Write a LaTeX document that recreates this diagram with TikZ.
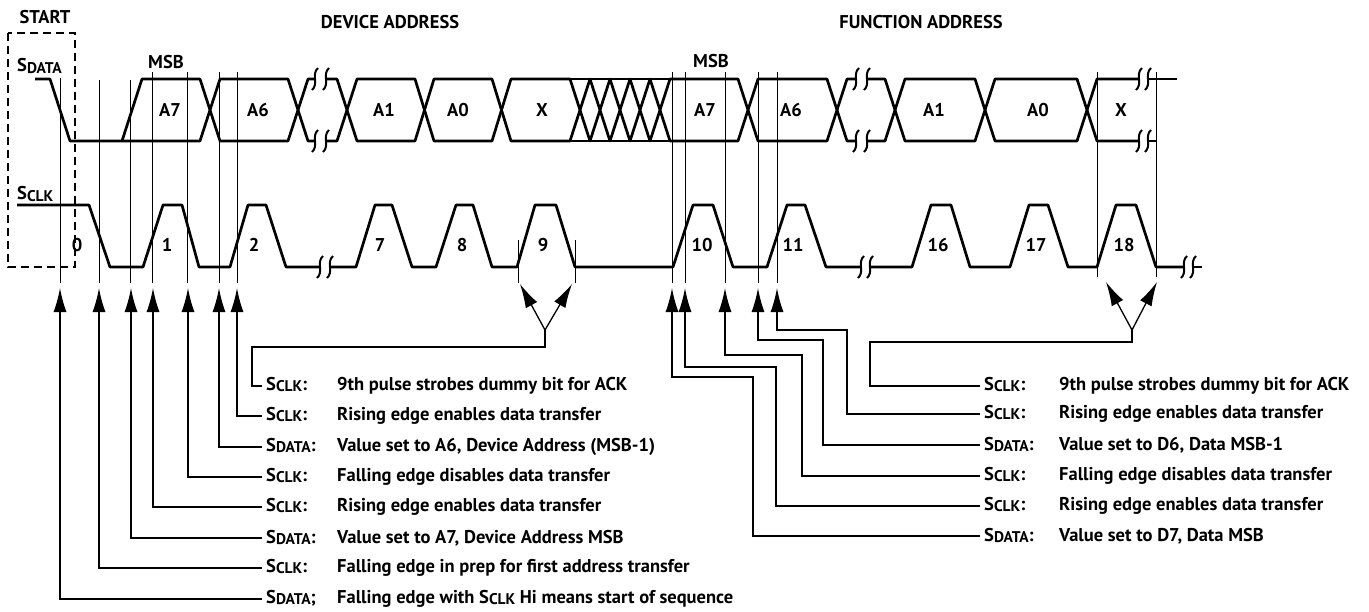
\documentclass[tikz,border=0pt]{standalone}
\usepackage{fontspec}
\setmainfont{PT Sans}
\usetikzlibrary{arrows.meta}
\newcommand{\sgnl}[1]{S{\fontsize{15.5}{15.5}\selectfont\raisebox{-1.2pt}{#1}}}
\begin{document}
\begin{tikzpicture}[x=1pt,y=-1pt,
  wave/.style={line width=2.7pt, line join=round},
  guide/.style={line width=1pt},
  conn/.style={line width=1.3pt},
  arr/.style={conn,-{Latex[length=24pt,width=13pt]}},
  brk/.style={line width=2pt},
  txt/.style={font=\bfseries\fontsize{18.5}{21}\selectfont, inner sep=0pt},
  lab/.style={txt, anchor=west, inner xsep=4pt},
]
\useasboundingbox (0,0) rectangle (1369,611);
\newcommand{\brkmark}[2]{\draw[brk] (#1+3,#2-11) .. controls (#1-4,#2-5) and (#1+4,#2+5) .. (#1-3,#2+11);}

% start box
\draw[line width=2.5pt, dash pattern=on 8pt off 5pt] (8,33) rectangle (75,267);

% headers
\node[txt] (start) at (45,17) {START};
\node[txt] (dev) at (390,22) {DEVICE ADDRESS};
\node[txt] (fun) at (921,22) {FUNCTION ADDRESS};
\node[txt, anchor=west] (sd) at (17,66) {\sgnl{DATA}};
\node[txt, anchor=west] (sc) at (17,194) {\sgnl{CLK}};
\node[txt] (msb1) at (166,62) {MSB};
\node[txt] (msb2) at (711,61) {MSB};

% guide lines
\foreach \x/\y in {60/78,99/80,130/80,152/72,187/72,219/72,237/72,672/72,685/72,725/72,758/72,777/72,518/240,575/240}
  \draw[guide] (\x,\y) -- (\x,283);
\foreach \x in {1097,1156}
  \draw[guide] (\x,72) -- (\x,277);

% SDATA
\draw[wave] (35,79) -- (50,79) -- (70,141) -- (200,141) -- (220,79) -- (288,79) -- (308,141) -- (315,141);
\draw[wave] (122,141) -- (142,79) -- (200,79) -- (220,141) -- (288,141) -- (308,79) -- (315,79);
\brkmark{315}{79}\brkmark{326}{79}\brkmark{315}{141}\brkmark{326}{141}
\draw[wave] (326,79) -- (337,79) -- (357,141) -- (415,141) -- (434,79) -- (492,79) -- (511,141) -- (570,141) -- (590,79) -- (610,141) -- (630,79) -- (650,141) -- (670,79) -- (738,79) -- (758,141) -- (827,141) -- (847,79) -- (856,79);
\draw[wave] (326,141) -- (337,141) -- (357,79) -- (415,79) -- (434,141) -- (492,141) -- (511,79) -- (570,79) -- (590,141) -- (610,79) -- (630,141) -- (650,79) -- (670,141) -- (738,141) -- (758,79) -- (827,79) -- (847,141) -- (856,141);
\draw[wave] (570,79) -- (670,79) (570,141) -- (670,141);
\brkmark{856}{79}\brkmark{867}{79}\brkmark{856}{141}\brkmark{867}{141}
\draw[wave] (867,79) -- (885,79) -- (905,141) -- (975,141) -- (995,79) -- (1077,79) -- (1097,141) -- (1139,141);
\draw[wave] (867,141) -- (885,141) -- (905,79) -- (975,79) -- (995,141) -- (1077,141) -- (1097,79) -- (1139,79);
\brkmark{1139}{79}\brkmark{1148}{79}\brkmark{1139}{141}\brkmark{1148}{141}
\draw[wave] (1148,79) -- (1177,79) (1148,141) -- (1156,141);

% data labels
\foreach \x/\t [count=\i] in {170/A7,258/A6,384/A1,458/A0,542/X,705/A7,791/A6,934/A1,1038/A0,1121/X}
  \node[txt] (d\i) at (\x,110) {\t};

% SCLK
\draw[wave] (17,205) -- (89,205) -- (110,267) -- (143,267) -- (163,205) -- (182,205) -- (199,267) -- (230,267) -- (248,205) -- (266,205) -- (286,267) -- (320,267);
\brkmark{320}{267}\brkmark{330}{267}
\draw[wave] (330,267) -- (356,267) -- (375,205) -- (392,205) -- (412,267) -- (436,267) -- (456,205) -- (473,205) -- (492,267) -- (517,267) -- (535,205) -- (556,205) -- (575,267) -- (673,267) -- (693,205) -- (713,205) -- (733,267) -- (767,267) -- (787,205) -- (805,205) -- (826,267) -- (861,267);
\brkmark{861}{267}\brkmark{870}{267}
\draw[wave] (870,267) -- (912,267) -- (931,205) -- (951,205) -- (970,267) -- (1010,267) -- (1029,205) -- (1048,205) -- (1068,267) -- (1097,267) -- (1116,205) -- (1136,205) -- (1156,267) -- (1184,267);
\brkmark{1184}{267}\brkmark{1193}{267}
\draw[wave] (1193,267) -- (1202,267);

% clock numbers
\foreach \x/\t [count=\i] in {77/0,167/1,254/2,380/7,462/8,543/9,702/10,793/11,938/16,1036/17,1124/18}
  \node[txt] (c\i) at (\x,245) {\t};

% left labels
\node[lab] (l1) at (262,386) {\makebox[71pt][l]{\sgnl{CLK}:}9th pulse strobes dummy bit for ACK};
\node[lab] (l2) at (262,416) {\makebox[71pt][l]{\sgnl{CLK}:}Rising edge enables data transfer};
\node[lab] (l3) at (262,447) {\makebox[71pt][l]{\sgnl{DATA}:}Value set to A6, Device Address (MSB-1)};
\node[lab] (l4) at (262,477) {\makebox[71pt][l]{\sgnl{CLK}:}Falling edge disables data transfer};
\node[lab] (l5) at (262,507) {\makebox[71pt][l]{\sgnl{CLK}:}Rising edge enables data transfer};
\node[lab] (l6) at (262,538) {\makebox[71pt][l]{\sgnl{DATA}:}Value set to A7, Device Address MSB};
\node[lab] (l7) at (262,568) {\makebox[71pt][l]{\sgnl{CLK}:}Falling edge in prep for first address transfer};
\node[lab] (l8) at (262,599) {\makebox[71pt][l]{\sgnl{DATA};}Falling edge with \sgnl{CLK} Hi means start of sequence};

% right labels
\node[lab] (r1) at (980,386) {\makebox[75pt][l]{\sgnl{CLK}:}9th pulse strobes dummy bit for ACK};
\node[lab] (r2) at (980,414) {\makebox[75pt][l]{\sgnl{CLK}:}Rising edge enables data transfer};
\node[lab] (r3) at (980,445) {\makebox[75pt][l]{\sgnl{DATA}:}Value set to D6, Data MSB-1};
\node[lab] (r4) at (980,476) {\makebox[75pt][l]{\sgnl{CLK}:}Falling edge disables data transfer};
\node[lab] (r5) at (980,506) {\makebox[75pt][l]{\sgnl{CLK}:}Rising edge enables data transfer};
\node[lab] (r6) at (980,536) {\makebox[75pt][l]{\sgnl{DATA}:}Value set to D7, Data MSB};

% left connectors
\coordinate (j9) at (545,330);
\draw[conn] (l1.west) -| (252,347) -| (j9);
\draw[arr] (j9) -- (520,284);
\draw[arr] (j9) -- (572,284);
\draw[arr] (l2.west) -| (237,288);
\draw[arr] (l3.west) -| (219,288);
\draw[arr] (l4.west) -| (188,288);
\draw[arr] (l5.west) -| (153,288);
\draw[arr] (l6.west) -| (131,288);
\draw[arr] (l7.west) -| (99,288);
\draw[arr] (l8.west) -| (60,288);

% right connectors
\coordinate (j18) at (1132,330);
\draw[conn] (r1.west) -| (870,342) -| (j18);
\draw[arr] (j18) -- (1106,282);
\draw[arr] (j18) -- (1157,282);
\draw[arr] (r2.west) -| (847,330) -| (777,288);
\draw[arr] (r3.west) -| (823,340) -| (758,288);
\draw[arr] (r4.west) -| (802,355) -| (725,288);
\draw[arr] (r5.west) -| (776,367) -| (685,288);
\draw[arr] (r6.west) -| (753,377) -| (672,288);
\end{tikzpicture}
\end{document}
